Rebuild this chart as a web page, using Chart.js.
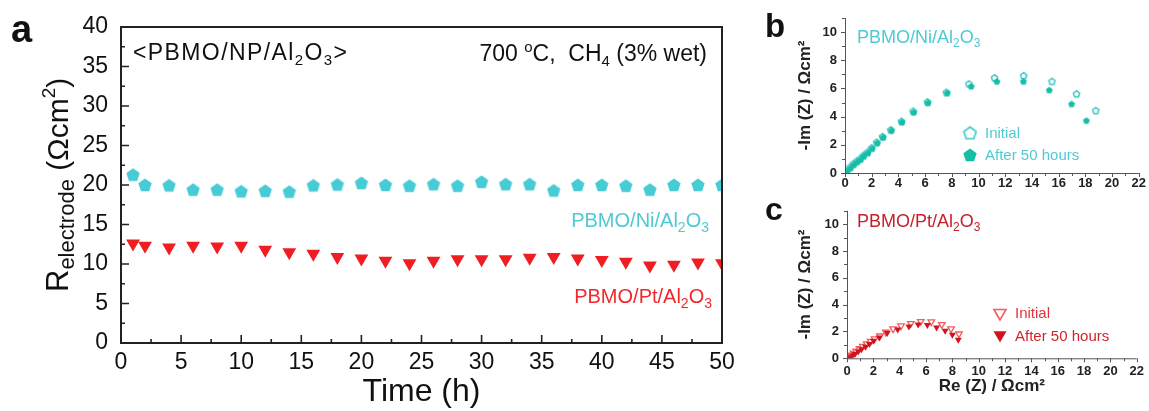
<!DOCTYPE html>
<html>
<head>
<meta charset="utf-8">
<script src="https://cdn.jsdelivr.net/npm/chart.js@4.4.1/dist/chart.umd.min.js"></script>
<style>
  body { margin: 0; background: #fff; width: 1149px; height: 411px; overflow: hidden; position: relative; }
  canvas { position: absolute; }
  #ca { left: 0; top: 0; }
  #cb { left: 760px; top: 0; }
  #cc { left: 760px; top: 195px; }
</style>
</head>
<body>
<canvas id="ca" width="760" height="411"></canvas>
<canvas id="cb" width="389" height="200"></canvas>
<canvas id="cc" width="389" height="216"></canvas>
<script>
const FONT = '"Liberation Sans", Arial, Helvetica, sans-serif';
Chart.defaults.font.family = FONT;
Chart.defaults.animation = false;

// ---- panel a : R_electrode vs time ----
const timeH = [1, 2, 4, 6, 8, 10, 12, 14, 16, 18, 20, 22, 24, 26, 28, 30, 32, 34, 36, 38, 40, 42, 44, 46, 48, 50];
const rNi = [21.3, 20.0, 19.95, 19.4, 19.4, 19.2, 19.25, 19.15, 19.95, 20.05, 20.25, 20.0, 19.9, 20.1, 19.9, 20.4, 20.1, 20.1, 19.3, 20.0, 20.0, 19.9, 19.4, 20.0, 20.0, 20.0];
const rPt = [12.6, 12.3, 12.1, 12.3, 12.2, 12.3, 11.8, 11.5, 11.3, 10.9, 10.7, 10.4, 10.1, 10.4, 10.6, 10.6, 10.6, 10.8, 10.9, 10.7, 10.5, 10.3, 9.8, 9.9, 10.2, 10.1];
const timeTicks = [0, 5, 10, 15, 20, 25, 30, 35, 40, 45, 50];
const rTicks = [0, 5, 10, 15, 20, 25, 30, 35, 40];

// ---- panel b : Nyquist PBMO/Ni/Al2O3 ----
const reNiInit = [0.13, 0.37, 0.62, 0.87, 1.12, 1.37, 1.67, 1.99, 2.37, 2.81, 3.43, 4.23, 5.10, 6.17, 7.59, 9.28, 11.2, 13.38, 15.5, 17.34, 18.78];
const imNiInit = [0.19, 0.43, 0.66, 0.85, 1.02, 1.26, 1.49, 1.80, 2.20, 2.60, 3.08, 3.69, 4.40, 5.06, 5.74, 6.34, 6.77, 6.93, 6.52, 5.63, 4.45];
const reNiAfter = [0.18, 0.42, 0.67, 0.92, 1.17, 1.42, 1.72, 2.04, 2.42, 2.86, 3.48, 4.27, 5.15, 6.22, 7.66, 9.45, 11.37, 13.36, 15.30, 16.97, 18.08];
const imNiAfter = [0.15, 0.39, 0.62, 0.81, 0.98, 1.22, 1.45, 1.76, 2.15, 2.55, 3.03, 3.63, 4.33, 5.0, 5.7, 6.17, 6.52, 6.52, 5.91, 4.92, 3.74];

// ---- panel c : Nyquist PBMO/Pt/Al2O3 ----
const rePtInit = [0.15, 0.3, 0.5, 0.7, 0.95, 1.2, 1.5, 1.8, 2.1, 2.5, 2.95, 3.5, 4.1, 4.85, 5.6, 6.4, 7.2, 7.9, 8.5];
const imPtInit = [0.12, 0.25, 0.4, 0.55, 0.72, 0.9, 1.08, 1.27, 1.45, 1.67, 1.95, 2.2, 2.42, 2.6, 2.75, 2.72, 2.52, 2.2, 1.82];
const rePtAfter = [0.2, 0.4, 0.6, 0.85, 1.1, 1.4, 1.7, 2.0, 2.45, 3.05, 3.85, 4.7, 5.4, 6.1, 6.8, 7.45, 8.0, 8.45];
const imPtAfter = [0.08, 0.2, 0.33, 0.5, 0.68, 0.87, 1.07, 1.3, 1.55, 1.88, 2.15, 2.38, 2.52, 2.48, 2.3, 2.05, 1.75, 1.38];

const reTicks = [0, 2, 4, 6, 8, 10, 12, 14, 16, 18, 20, 22];
const imTicks = [0, 2, 4, 6, 8, 10];

const CYAN = '#47cbd4';
const RED = '#f01e22';
const TEAL_OPEN = '#3ec8c6';
const TEAL_FILL = '#16bea7';
const PT_OPEN = '#f25c60';
const PT_FILL = '#d0141c';

function pentagon(r, fill, stroke, lw) {
  const c = document.createElement('canvas');
  const s = Math.ceil(2 * r + (lw || 0) + 2);
  c.width = c.height = s;
  const g = c.getContext('2d');
  g.beginPath();
  for (let i = 0; i < 5; i++) {
    const a = -Math.PI / 2 + i * 2 * Math.PI / 5;
    g.lineTo(s / 2 + r * Math.cos(a), s / 2 + r * Math.sin(a) + 0.5);
  }
  g.closePath();
  if (fill) { g.fillStyle = fill; g.fill(); }
  if (stroke) { g.strokeStyle = stroke; g.lineWidth = lw; g.stroke(); }
  return c;
}

function pts(xs, ys) { return xs.map((v, i) => ({ x: v, y: ys[i] })); }
function fixTicks(arr) { return s => { s.ticks = arr.map(v => ({ value: v })); }; }
function minors(arr) {
  const out = [];
  for (let i = 0; i < arr.length - 1; i++) out.push((arr[i] + arr[i + 1]) / 2);
  return out;
}

// rich text: parts = [[text, size, dy, bold]]
function rich(ctx, x, y, parts, align, color, spacing) {
  const f = p => (p[3] ? 'bold ' : '') + p[1] + 'px ' + FONT;
  ctx.letterSpacing = (spacing || 0) + 'px';
  let w = 0;
  parts.forEach(p => { ctx.font = f(p); w += ctx.measureText(p[0]).width; });
  let cx = align === 'right' ? x - w : x;
  ctx.fillStyle = color;
  ctx.textAlign = 'left';
  ctx.textBaseline = 'alphabetic';
  parts.forEach(p => { ctx.font = f(p); ctx.fillText(p[0], cx, y + (p[2] || 0)); cx += ctx.measureText(p[0]).width; });
  ctx.letterSpacing = '0px';
}

// ---------- panel a ----------
const plugA = {
  id: 'plugA',
  afterDraw(chart) {
    const { ctx, chartArea: a, scales: { x, y } } = chart;
    ctx.save();
    ctx.strokeStyle = '#222';
    ctx.lineWidth = 2;
    ctx.strokeRect(a.left, a.top, a.right - a.left, a.bottom - a.top);
    ctx.lineWidth = 1.6;
    ctx.beginPath();
    timeTicks.forEach(v => { const p = x.getPixelForValue(v); ctx.moveTo(p, a.bottom); ctx.lineTo(p, a.bottom - 8); });
    minors(timeTicks).forEach(v => { const p = x.getPixelForValue(v); ctx.moveTo(p, a.bottom); ctx.lineTo(p, a.bottom - 4); });
    rTicks.forEach(v => { const p = y.getPixelForValue(v); ctx.moveTo(a.left, p); ctx.lineTo(a.left + 8, p); });
    minors(rTicks).forEach(v => { const p = y.getPixelForValue(v); ctx.moveTo(a.left, p); ctx.lineTo(a.left + 4, p); });
    ctx.stroke();

    rich(ctx, 11, 42, [['a', 38, 0, true]], 'left', '#111');
    rich(ctx, 133, 60, [['<PBMO/NP/Al', 23], ['2', 15, 5], ['O', 23], ['3', 15, 5], ['>', 23]], 'left', '#111', 1.4);
    rich(ctx, 707, 61, [['700 ', 23], ['o', 15, -9], ['C,  CH', 23], ['4', 15, 5], [' (3% wet)', 23]], 'right', '#111');
    rich(ctx, 709, 227, [['PBMO/Ni/Al', 20], ['2', 14, 5], ['O', 20], ['3', 14, 5]], 'right', '#4fcad3');
    rich(ctx, 712, 303, [['PBMO/Pt/Al', 20], ['2', 14, 5], ['O', 20], ['3', 14, 5]], 'right', '#f0282d');

    // y title with subscript
    ctx.translate(68, 292);
    ctx.rotate(-Math.PI / 2);
    rich(ctx, 0, 0, [['R', 31], ['electrode', 22, 6], [' (\u03A9cm', 30], ['2', 19, -13], [')', 30]], 'left', '#111');
    ctx.restore();
  }
};

new Chart(document.getElementById('ca'), {
  type: 'scatter',
  data: {
    datasets: [
      { data: pts(timeH, rNi), pointStyle: pentagon(7, CYAN), clip: 0 },
      { data: pts(timeH, rPt), pointStyle: 'triangle', rotation: 180, pointRadius: 8, backgroundColor: RED, borderColor: RED, borderWidth: 0, clip: 0 }
    ]
  },
  options: {
    responsive: false,
    events: [],
    layout: { padding: { top: 27, right: 38, left: 0, bottom: 0 } },
    plugins: { legend: { display: false }, tooltip: { enabled: false } },
    scales: {
      x: {
        type: 'linear', min: 0, max: 50,
        afterBuildTicks: fixTicks(timeTicks),
        afterFit: s => { s.height = 68; },
        grid: { display: false, drawTicks: false }, border: { display: false },
        ticks: { font: { size: 23 }, color: '#111', padding: 6, autoSkip: false, maxRotation: 0 },
        title: { display: true, text: 'Time (h)', font: { size: 32 }, color: '#111', padding: { top: 0, bottom: 0 } }
      },
      y: {
        min: 0, max: 40,
        afterBuildTicks: fixTicks(rTicks),
        afterFit: s => { s.width = 121; },
        grid: { display: false, drawTicks: false }, border: { display: false },
        ticks: { font: { size: 23 }, color: '#111', padding: 13 }
      }
    }
  },
  plugins: [plugA]
});

// ---------- panels b, c ----------
function nyqAxes(chart) {
  const { ctx, chartArea: a, scales: { x, y } } = chart;
  ctx.save();
  ctx.strokeStyle = '#555';
  ctx.lineWidth = 1;
  ctx.beginPath();
  ctx.moveTo(a.left + 0.5, a.top); ctx.lineTo(a.left + 0.5, a.bottom + 0.5); ctx.lineTo(a.right, a.bottom + 0.5);
  reTicks.forEach(v => { const p = Math.round(x.getPixelForValue(v)) + 0.5; ctx.moveTo(p, a.bottom); ctx.lineTo(p, a.bottom + 4); });
  minors(reTicks).forEach(v => { const p = Math.round(x.getPixelForValue(v)) + 0.5; ctx.moveTo(p, a.bottom); ctx.lineTo(p, a.bottom + 3); });
  imTicks.forEach(v => { const p = Math.round(y.getPixelForValue(v)) + 0.5; ctx.moveTo(a.left, p); ctx.lineTo(a.left - 4, p); });
  minors(imTicks).concat([11]).forEach(v => { const p = Math.round(y.getPixelForValue(v)) + 0.5; ctx.moveTo(a.left, p); ctx.lineTo(a.left - 3, p); });
  ctx.stroke();
  ctx.restore();
}

function nyqOptions(xH, yW, padTop, xTitle, yTitlePad) {
  return {
    responsive: false,
    events: [],
    layout: { padding: { top: padTop, right: 9, left: 0, bottom: 0 } },
    plugins: { legend: { display: false }, tooltip: { enabled: false } },
    scales: {
      x: {
        type: 'linear', min: 0, max: 22,
        afterBuildTicks: fixTicks(reTicks),
        afterFit: s => { s.height = xH; },
        grid: { display: false, drawTicks: false }, border: { display: false },
        ticks: { font: { size: 13, weight: 'bold' }, color: '#222', padding: xTitle ? 5 : 3, autoSkip: false, maxRotation: 0 },
        title: xTitle ? { display: true, text: xTitle, font: { size: 17, weight: 'bold' }, color: '#222', padding: { top: 0, bottom: 14 } } : { display: false }
      },
      y: {
        min: 0, max: 11,
        afterBuildTicks: fixTicks(imTicks),
        afterFit: s => { s.width = yW; },
        grid: { display: false, drawTicks: false }, border: { display: false },
        ticks: { font: { size: 13, weight: 'bold' }, color: '#222', padding: 8 },
        title: { display: true, text: '-Im (Z) / \u03A9cm\u00B2', font: { size: 17, weight: 'bold' }, color: '#222', padding: { top: yTitlePad, bottom: 0 } }
      }
    }
  };
}

const pentOpen = pentagon(3.3, '#fff', TEAL_OPEN, 1.5);
const pentFill = pentagon(3.6, TEAL_FILL);
const pentOpenBig = pentagon(6.5, '#fff', TEAL_OPEN, 1.6);
const pentFillBig = pentagon(7, TEAL_FILL);

const plugB = {
  id: 'plugB',
  afterDraw(chart) {
    nyqAxes(chart);
    const ctx = chart.ctx;
    ctx.save();
    rich(ctx, 5, 37, [['b', 33, 0, true]], 'left', '#111');
    rich(ctx, 97, 43, [['PBMO/Ni/Al', 18], ['2', 12, 4], ['O', 18], ['3', 12, 4]], 'left', '#4fcad3');
    ctx.drawImage(pentOpenBig, 210 - pentOpenBig.width / 2, 133 - pentOpenBig.height / 2);
    ctx.drawImage(pentFillBig, 210 - pentFillBig.width / 2, 155 - pentFillBig.height / 2);
    rich(ctx, 225, 138, [['Initial', 15]], 'left', '#4fcad3');
    rich(ctx, 225, 160, [['After 50 hours', 15]], 'left', '#4fcad3');
    ctx.restore();
  }
};

new Chart(document.getElementById('cb'), {
  type: 'scatter',
  data: {
    datasets: [
      { data: pts(reNiAfter, imNiAfter), pointStyle: pentFill },
      { data: pts(reNiInit, imNiInit), pointStyle: pentOpen }
    ]
  },
  options: nyqOptions(27, 85, 18, null, 35),
  plugins: [plugB]
});

function tri(ctx, x, y, r, fill, stroke, lw) {
  ctx.beginPath();
  ctx.moveTo(x, y + r);
  ctx.lineTo(x - r * 0.866, y - r / 2);
  ctx.lineTo(x + r * 0.866, y - r / 2);
  ctx.closePath();
  if (fill) { ctx.fillStyle = fill; ctx.fill(); }
  if (stroke) { ctx.strokeStyle = stroke; ctx.lineWidth = lw; ctx.stroke(); }
}

const plugC = {
  id: 'plugC',
  afterDraw(chart) {
    nyqAxes(chart);
    const ctx = chart.ctx;
    ctx.save();
    rich(ctx, 5, 25, [['c', 32, 0, true]], 'left', '#111');
    rich(ctx, 97, 32, [['PBMO/Pt/Al', 18], ['2', 12, 4], ['O', 18], ['3', 12, 4]], 'left', '#c8202a');
    tri(ctx, 240, 118, 7, '#fff', PT_OPEN, 1.6);
    tri(ctx, 240, 140, 7.5, PT_FILL);
    rich(ctx, 255, 123, [['Initial', 15]], 'left', '#e2323a');
    rich(ctx, 255, 146, [['After 50 hours', 15]], 'left', '#d0242c');
    ctx.restore();
  }
};

new Chart(document.getElementById('cc'), {
  type: 'scatter',
  data: {
    datasets: [
      { data: pts(rePtAfter, imPtAfter), pointStyle: 'triangle', rotation: 180, pointRadius: 4, backgroundColor: PT_FILL, borderColor: PT_FILL, borderWidth: 0 },
      { data: pts(rePtInit, imPtInit), pointStyle: 'triangle', rotation: 180, pointRadius: 3.8, backgroundColor: '#fff', borderColor: PT_OPEN, borderWidth: 1.3 }
    ]
  },
  options: nyqOptions(52.7, 87, 7.5, 'Re (Z) / \u03A9cm\u00B2', 35),
  plugins: [plugC]
});
</script>
</body>
</html>
